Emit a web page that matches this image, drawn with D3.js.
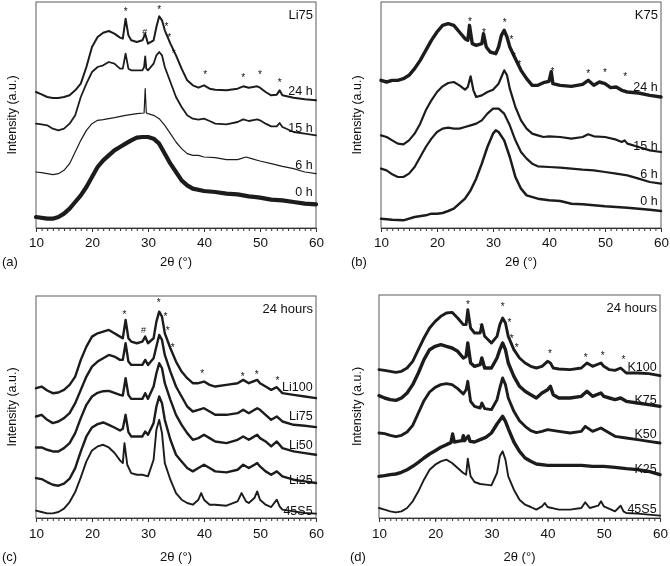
<!DOCTYPE html>
<html><head><meta charset="utf-8">
<script src="https://cdn.jsdelivr.net/npm/d3@7"></script>
<style>
body{margin:0;background:#fff}
svg{display:block;filter:grayscale(1)}
text{font-family:"Liberation Sans",Arial,sans-serif;fill:#111}
</style>
</head><body>
<svg id="chart" width="670" height="566"></svg>
<script>
// ---------- DATA (2θ in degrees, intensity in arbitrary units) ----------
const xTickLabels = [10, 20, 30, 40, 50, 60];

// Panel (a) Li75 at different times
const a24 = [[10,408],[11,401],[12,393],[13,390],[14,390],[15,393],[16,398],[17,413],[18,433],[19,483],[20,543],[21,573],[22,586],[23,591],[24,583],[25,571],[25.5,568],[26,628],[26.5,578],[27,563],[28,558],[29,563],[29.5,583],[30,553],[31,563],[31.5,603],[32,635],[32.5,623],[33,593],[34,553],[35,518],[36,478],[37,443],[38,428],[39,421],[40,428],[41,418],[42,415],[44,413],[46,418],[47,425],[48,421],[49.5,425],[50,421],[51,408],[52,398],[53,400],[53.5,413],[54,398],[56,391],[58,386],[60,383]];
const a15 = [[10,313],[11,311],[12,308],[13,298],[14,293],[15,298],[16,313],[17,338],[18,393],[19,433],[20,468],[21,483],[22,488],[23,498],[24,493],[25,478],[25.5,478],[26,523],[26.5,478],[27,473],[28,473],[29,473],[29.3,483],[29.5,515],[29.7,478],[30,473],[31,493],[31.5,518],[32,528],[32.5,518],[33,483],[34,438],[35,393],[36,363],[37,338],[38,328],[39,325],[40,328],[41,321],[42,313],[44,311],[46,318],[47,326],[48,321],[49.5,326],[50,323],[51,313],[52,305],[53,305],[53.5,315],[54,303],[56,288],[58,283],[60,278]];
const a6 = [[10,168],[11,166],[12,163],[13,160],[14,163],[15,173],[16,193],[17,228],[18,263],[19,293],[20,313],[21,323],[22,325],[24,331],[26,338],[28,343],[29.3,345],[29.5,418],[29.7,345],[30,343],[31,338],[32,328],[33,308],[34,283],[35,258],[36,238],[37,223],[38,218],[39,218],[40,213],[42,211],[44,205],[46,205],[47.5,213],[48.5,208],[50,201],[52,193],[54,185],[56,178],[58,168],[60,163]];
const a0 = [[10,33],[12,28],[13,28],[14,33],[15,43],[16,58],[17,78],[18,98],[19,123],[20,153],[21,183],[22,203],[23,218],[24,233],[25,243],[26,253],[27,263],[28,271],[29,273],[30,273],[31,268],[32,253],[33,223],[34,193],[35,168],[36,143],[37,128],[38,118],[40,111],[42,108],[44,103],[46,101],[48,95],[50,91],[52,85],[54,83],[56,78],[58,73],[60,71]];
const aNames = ["24 h", "15 h", "6 h", "0 h"];
const aLabelY = [413, 301, 191, 111];
const aStars = [[26,658],[32,663],[33.3,613],[33.8,578],[34.6,531],[40.2,468],[47,458],[50,468],[53.5,443]];
const aHash = [[29.4,590]];

// Panel (b) K75 at different times
const b24 = [[10,443],[11,438],[12,443],[13,443],[14,448],[15,458],[16,478],[17,503],[18,533],[19,563],[20,588],[21,608],[22,613],[23,608],[24,588],[25,568],[25.5,563],[25.8,608],[26.3,553],[27,548],[28,553],[28.3,583],[28.8,543],[29.5,528],[30.5,523],[31,543],[31.5,578],[32,593],[32.5,573],[33,543],[34,508],[35,473],[36,448],[37,428],[38,428],[39,436],[40,440],[40.4,469],[40.7,433],[42,428],[44,425],[46,431],[47,443],[48,428],[49,438],[50,433],[51,421],[52,423],[53,413],[54,408],[56,405],[58,398],[60,393]];
const b15 = [[10,278],[11,273],[12,263],[13,253],[14,251],[15,263],[16,283],[17,313],[18,353],[19,383],[20,408],[21,425],[22,435],[23,438],[24,428],[25,415],[25.5,423],[26,455],[26.5,413],[27,393],[28,398],[29,408],[30,415],[31,433],[31.5,453],[32,473],[32.5,458],[33,418],[34,363],[35,323],[36,298],[37,283],[38,278],[39,273],[40,275],[42,273],[44,268],[46,273],[47,281],[48,275],[50,273],[52,265],[53,258],[53.5,263],[54,253],[56,243],[58,233],[60,228]];
const b6 = [[10,178],[11,173],[12,161],[13,153],[14,153],[15,163],[16,183],[17,213],[18,243],[19,268],[20,288],[21,298],[22,301],[23,298],[24,298],[25,303],[26,308],[27,313],[28,323],[29,343],[30,358],[31,358],[32,343],[33,308],[34,263],[35,228],[36,208],[37,193],[38,185],[40,183],[42,181],[44,178],[46,175],[48,173],[50,168],[52,163],[54,158],[56,148],[58,138],[60,133]];
const b0 = [[10,28],[12,25],[14,23],[16,33],[18,38],[19,43],[20,43],[21,45],[22,51],[23,58],[24,73],[25,88],[26,113],[27,148],[28,193],[29,243],[30,283],[30.5,293],[31,288],[32,263],[33,213],[34,153],[35,118],[36,98],[38,88],[40,83],[42,81],[44,73],[46,71],[48,68],[50,65],[52,63],[54,61],[56,58],[58,55],[60,51]];
const bNames = ["24 h", "15 h", "6 h", "0 h"];
const bLabelY = [425, 248, 163, 83];
const bStars = [[25.9,628],[28.4,593],[32.1,623],[33.3,573],[33.75,523],[34.7,498],[40.6,478],[47,471],[50,475],[53.6,463]];

// Panel (c) Li series, 24 hours
const c100 = [[10,390],[11,395],[12,383],[13,375],[14,377],[15,385],[16,400],[17,425],[18,475],[19,515],[20,545],[21,555],[22,560],[23,565],[24,555],[25,545],[25.5,540],[26,595],[26.5,540],[27,530],[28,525],[29,530],[29.5,545],[30,525],[31,540],[31.5,590],[32,620],[32.5,605],[33,555],[34,510],[35,470],[36,440],[37,420],[38,405],[39,405],[40,410],[41,400],[42,395],[44,400],[46,405],[47,415],[48,405],[49.5,415],[50,405],[51,395],[52,385],[53,393],[54,375],[56,370],[58,365],[60,360]];
const c75 = [[10,305],[11,310],[12,295],[13,285],[14,290],[15,300],[16,315],[17,345],[18,385],[19,425],[20,455],[21,470],[22,480],[23,490],[24,485],[25,475],[25.5,475],[26,525],[26.5,470],[27,460],[28,460],[29,460],[29.5,475],[30,460],[31,480],[31.5,515],[32,550],[32.5,535],[33,490],[34,440],[35,395],[36,365],[37,335],[38,320],[39,325],[40,330],[41,320],[42,310],[44,310],[46,315],[47,325],[48,315],[49.5,330],[50,325],[51,310],[52,295],[53,305],[54,290],[56,280],[58,277],[60,273]];
const c50 = [[10,212],[11,212],[12,205],[13,200],[14,200],[15,210],[16,225],[17,255],[18,300],[19,340],[20,365],[21,376],[22,381],[23,382],[24,376],[25,370],[25.5,368],[26,420],[26.5,370],[27,358],[28,358],[29,358],[29.5,375],[30,358],[31,395],[31.5,435],[32,465],[32.5,450],[33,405],[34,355],[35,310],[36,280],[37,255],[38,235],[39,240],[40,250],[41,240],[42,230],[44,225],[46,235],[47,245],[48,235],[49.5,250],[50,240],[51,230],[52,215],[53,230],[54,210],[56,200],[58,195],[60,190]];
const c25 = [[10,120],[11,117],[12,108],[13,100],[14,97],[15,103],[16,118],[17,150],[18,200],[19,245],[20,272],[21,282],[22,287],[23,280],[24,272],[25,263],[25.5,268],[26,310],[26.5,258],[27,245],[28,245],[29,245],[29.5,260],[30,250],[31,285],[31.5,335],[32,365],[32.5,345],[33,295],[34,235],[35,190],[36,170],[37,150],[38,140],[39,150],[40,160],[41,150],[42,140],[44,137],[46,145],[47,160],[48,150],[49.5,165],[50,155],[51,140],[52,130],[53,140],[54,125],[56,115],[58,110],[60,105]];
const c45S5 = [[10,22],[11,18],[12,14],[13,14],[14,18],[15,28],[16,48],[17,78],[18,122],[19,170],[20,203],[21,215],[22,220],[23,212],[24,196],[25,173],[25.5,165],[25.8,225],[26.3,160],[27,135],[28,130],[29,130],[30,125],[31,175],[31.5,265],[32,295],[32.5,255],[33,165],[34,115],[35,75],[35.5,65],[36,55],[37,45],[38,40],[39,55],[39.5,75],[40,55],[41,40],[42,40],[44,37],[46,50],[46.7,75],[47.5,50],[48,45],[49,60],[49.5,80],[50,55],[51,40],[52,33],[53,55],[53.5,35],[54,25],[56,20],[58,15],[60,13]];
const cNames = ["Li100", "Li75", "Li50", "Li25", "45S5"];
const cLabelY = [395, 307, 220, 115, 23];
const cStars = [[25.8,620],[31.9,655],[33.1,613],[33.5,570],[34.4,520],[39.7,443],[46.9,433],[49.4,440],[53.1,420]];
const cHash = [[29.2,565]];

// Panel (d) K series, 24 hours
const d100 = [[10,445],[11,443],[12,440],[13,437],[14,440],[15,450],[16,470],[17,505],[18,540],[19,570],[20,590],[21,605],[22,615],[23,617],[24,600],[25,580],[25.5,580],[25.8,625],[26.3,570],[27,555],[28,555],[28.3,580],[28.8,545],[30,525],[31,545],[31.5,580],[32,600],[32.5,585],[33,545],[34,505],[35,480],[36,465],[37,455],[38,450],[39,455],[40,470],[40.5,465],[41,450],[42,447],[44,445],[46,450],[47,465],[48,455],[49.5,465],[50,455],[51,445],[52,443],[53,450],[54,435],[56,435],[58,433],[60,427]];
const d75 = [[10,367],[11,360],[12,355],[13,353],[14,360],[15,375],[16,400],[17,435],[18,475],[19,505],[20,515],[21,520],[22,515],[23,510],[24,500],[25,480],[25.5,485],[25.8,525],[26.3,465],[27,455],[28,460],[28.3,480],[28.8,450],[30,450],[31,480],[31.5,505],[32,525],[32.5,505],[33,465],[34,425],[35,395],[36,380],[37,370],[38,360],[39,375],[40,385],[40.5,395],[41,370],[42,360],[44,360],[46,365],[47,380],[48,365],[49.5,375],[50,365],[51,360],[52,355],[53,360],[54,350],[56,345],[58,340],[60,335]];
const d50 = [[10,255],[11,253],[12,248],[13,244],[14,248],[15,258],[16,278],[17,315],[18,352],[19,378],[20,392],[21,400],[22,403],[23,400],[24,388],[25,372],[25.5,385],[25.8,410],[26.3,350],[27,335],[28,330],[28.3,345],[28.8,328],[30,325],[31,355],[31.5,390],[32,420],[32.5,400],[33,360],[34,320],[35,292],[36,275],[37,262],[38,256],[39,260],[40,265],[42,260],[44,255],[46,260],[46.7,275],[48,260],[49.5,270],[50,265],[51,255],[52,245],[54,240],[56,235],[58,230],[60,225]];
const d25 = [[10,125],[11,127],[12,130],[13,132],[14,137],[15,145],[16,155],[17,167],[18,180],[19,192],[20,202],[21,212],[22,220],[22.8,226],[23.1,252],[23.4,228],[24,230],[24.8,232],[25,247],[25.2,232],[25.9,246],[26.2,230],[27,228],[28,235],[29,242],[30,255],[31,282],[32,305],[32.5,290],[33,268],[34,228],[35,200],[36,180],[37,170],[38,162],[40,158],[42,158],[44,158],[46,158],[48,155],[50,155],[52,152],[54,148],[56,145],[58,140],[60,130]];
const d45S5 = [[10,30],[11,25],[12,20],[13,17],[14,20],[15,30],[16,50],[17,80],[18,115],[19,145],[20,160],[21,170],[22,175],[23,165],[24,150],[25,135],[25.5,130],[25.8,178],[26.3,125],[27,108],[28,102],[29,100],[30,98],[31,135],[31.5,185],[32,200],[32.5,175],[33,125],[34,85],[35,55],[36,40],[37,33],[38,25],[39,35],[39.5,45],[40,33],[42,25],[44,25],[46,30],[46.7,47],[47.5,30],[49,37],[49.5,50],[50,35],[52,20],[53,37],[53.5,20],[54,15],[56,13],[58,10],[60,7]];
const dNames = ["K100", "K75", "K50", "K25", "45S5"];
const dLabelY = [455, 355, 255, 150, 30];
const dStars = [[25.85,647],[28.2,580],[32,643],[33.2,593],[33.6,545],[34.5,518],[40.4,500],[46.8,490],[49.8,495],[53.5,483]];

// ---------- LAYOUT / STYLE ----------
const panels = [
  {tag:"(a)", title:"Li75", box:{l:36,r:316,t:2,b:228}, ymax:678,
   series:[a24,a15,a6,a0], widths:[2.0,1.8,1.2,4.2], names:aNames, labelY:aLabelY, stars:aStars, hash:aHash,
   tickY:247, capY:266, tagX:2, ylabX:12},
  {tag:"(b)", title:"K75", box:{l:381,r:661,t:2,b:228}, ymax:678,
   series:[b24,b15,b6,b0], widths:[3.4,2.2,2.2,2.5], names:bNames, labelY:bLabelY, stars:bStars, hash:[],
   tickY:247, capY:266, tagX:351, ylabX:357},
  {tag:"(c)", title:"24 hours", box:{l:36,r:316,t:296,b:518}, ymax:667,
   series:[c100,c75,c50,c25,c45S5], widths:[2.4,2.4,2.4,2.4,1.9], names:cNames, labelY:cLabelY, stars:cStars, hash:cHash,
   tickY:538, capY:561, tagX:2, ylabX:12},
  {tag:"(d)", title:"24 hours", box:{l:379,r:660,t:295,b:518}, ymax:669,
   series:[d100,d75,d50,d25,d45S5], widths:[2.9,3.4,2.9,3.4,1.9], names:dNames, labelY:dLabelY, stars:dStars, hash:[],
   tickY:538, capY:561, tagX:350, ylabX:357}
];

const svg = d3.select("#chart");
const lineColor = "#1c1c1c";

panels.forEach(p => {
  const B = p.box;
  const x = d3.scaleLinear().domain([10, 60]).range([B.l, B.r]);
  const y = d3.scaleLinear().domain([0, p.ymax]).range([B.b, B.t]);
  const g = svg.append("g");

  // frame
  g.append("rect").attr("x", B.l).attr("y", B.t)
    .attr("width", B.r - B.l).attr("height", B.b - B.t)
    .attr("fill", "none").attr("stroke", "#5a5a5a").attr("stroke-width", 1);

  // minor ticks
  const minor = d3.axisBottom(x).tickValues(d3.range(10, 61, 1)).tickSize(3).tickFormat("").tickSizeOuter(0);
  const gm = g.append("g").attr("transform", `translate(0,${B.b})`).call(minor);
  gm.select(".domain").attr("stroke", "#333");
  gm.selectAll(".tick line").attr("stroke", "#333");

  // major ticks + labels
  const major = d3.axisBottom(x).tickValues(xTickLabels).tickSize(4).tickSizeOuter(0).tickFormat(d3.format("d"));
  const ga = g.append("g").attr("transform", `translate(0,${B.b})`).call(major);
  ga.select(".domain").remove();
  ga.selectAll(".tick line").attr("stroke", "#333");
  ga.selectAll(".tick text").attr("y", 0).attr("dy", 0)
    .attr("transform", `translate(0,${p.tickY - B.b})`)
    .style("font-size", "13.5px").attr("fill", "#111")
    .style("font-family", '"Liberation Sans", Arial, sans-serif');

  // curves
  const line = d3.line().x(d => x(d[0])).y(d => y(d[1])).curve(d3.curveLinear);
  p.series.forEach((s, i) => {
    g.append("path").datum(s).attr("d", line)
      .attr("fill", "none").attr("stroke", lineColor)
      .attr("stroke-width", p.widths[i]).attr("stroke-linejoin", "round").attr("stroke-linecap", "round");
  });

  // series labels
  p.names.forEach((n, i) => {
    g.append("text").attr("x", x(59.4)).attr("y", y(p.labelY[i]) + 4.5)
      .attr("text-anchor", "end").style("font-size", "12.5px").text(n);
  });

  // stars & hash
  p.stars.forEach(s => {
    g.append("text").attr("x", x(s[0])).attr("y", y(s[1]) + 6)
      .attr("text-anchor", "middle").style("font-size", "10px").text("*");
  });
  p.hash.forEach(s => {
    g.append("text").attr("x", x(s[0])).attr("y", y(s[1]) + 3.5)
      .attr("text-anchor", "middle").style("font-size", "9px").text("#");
  });

  // title (top right)
  g.append("text").attr("x", B.r - 3).attr("y", B.t + 17)
    .attr("text-anchor", "end").style("font-size", "13px").text(p.title);

  // y axis label
  g.append("text").attr("transform", `translate(${p.ylabX + 4},${(B.t + B.b) / 2}) rotate(-90)`)
    .attr("text-anchor", "middle").style("font-size", "12.5px").text("Intensity (a.u.)");

  // x axis label
  g.append("text").attr("x", (B.l + B.r) / 2).attr("y", p.capY)
    .attr("text-anchor", "middle").style("font-size", "13px").text("2θ (°)");

  // panel tag
  g.append("text").attr("x", p.tagX).attr("y", p.capY).style("font-size", "13px").text(p.tag);
});
</script>
</body></html>
